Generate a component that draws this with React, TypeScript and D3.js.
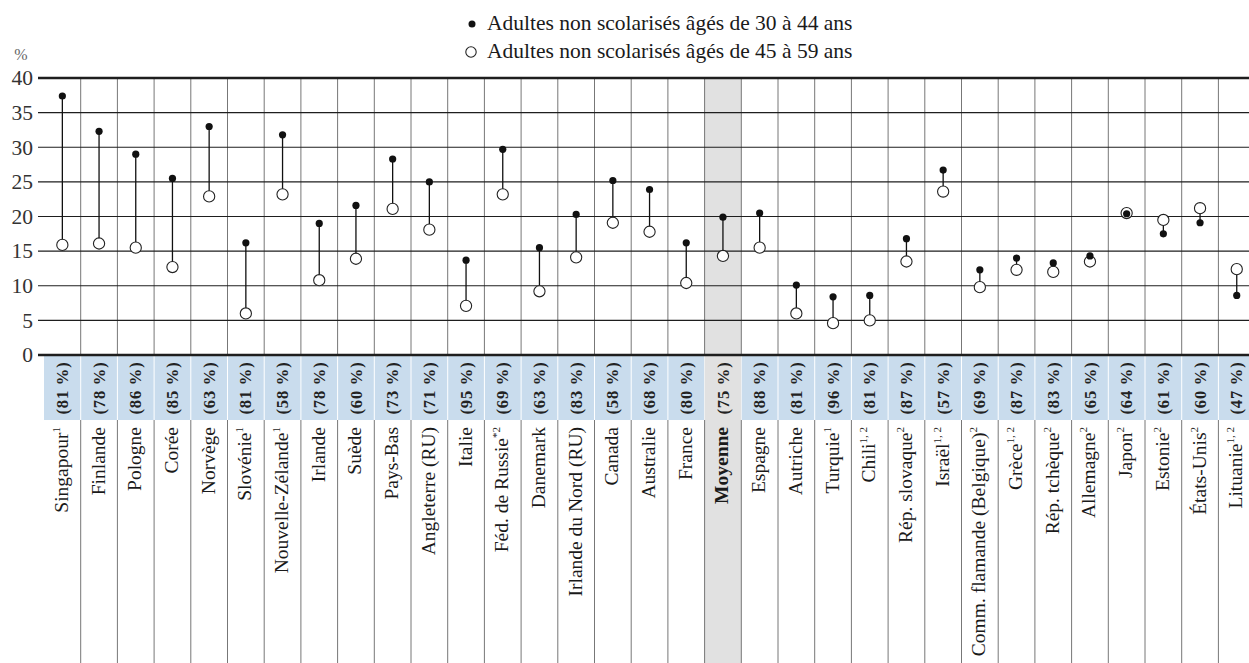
import React from "react";
import * as d3 from "d3";

const countries = [
  "Singapour", "Finlande", "Pologne", "Corée", "Norvège", "Slovénie", "Nouvelle-Zélande",
  "Irlande", "Suède", "Pays-Bas", "Angleterre (RU)", "Italie", "Féd. de Russie", "Danemark",
  "Irlande du Nord (RU)", "Canada", "Australie", "France", "Moyenne", "Espagne", "Autriche",
  "Turquie", "Chili", "Rép. slovaque", "Israël", "Comm. flamande (Belgique)", "Grèce",
  "Rép. tchèque", "Allemagne", "Japon", "Estonie", "États-Unis", "Lituanie",
];
const notes = [
  "1", "", "", "", "", "1", "1", "", "", "", "", "", "*2", "", "", "", "", "", "", "", "",
  "1", "1, 2", "2", "1, 2", "2", "1, 2", "2", "2", "2", "2", "2", "1, 2",
];
const shares = [
  81, 78, 86, 85, 63, 81, 58, 78, 60, 73, 71, 95, 69, 63, 83, 58, 68, 80, 75, 88, 81,
  96, 81, 87, 57, 69, 87, 83, 65, 64, 61, 60, 47,
];
const age30to44 = [
  37.4, 32.3, 29.0, 25.5, 33.0, 16.2, 31.8, 19.0, 21.6, 28.3, 25.0, 13.7, 29.7, 15.5,
  20.3, 25.2, 23.9, 16.2, 19.9, 20.5, 10.1, 8.4, 8.6, 16.8, 26.7, 12.3, 14.0, 13.3,
  14.3, 20.4, 17.5, 19.1, 8.6,
];
const age45to59 = [
  15.9, 16.1, 15.5, 12.7, 22.9, 6.0, 23.2, 10.8, 13.9, 21.1, 18.1, 7.1, 23.2, 9.2,
  14.1, 19.1, 17.8, 10.4, 14.3, 15.5, 6.0, 4.6, 5.0, 13.5, 23.6, 9.8, 12.3, 12.0,
  13.5, 20.5, 19.5, 21.2, 12.4,
];
const yTicks = [0, 5, 10, 15, 20, 25, 30, 35, 40];
const legendLabels = [
  "Adultes non scolarisés âgés de 30 à 44 ans",
  "Adultes non scolarisés âgés de 45 à 59 ans",
];
const averageName = "Moyenne";

const W = 1249;
const H = 663;
const FONT = "'Liberation Serif', 'Times New Roman', serif";

export default function App() {
  const colW = 36.7;
  const left = 44;
  const x = d3
    .scaleBand<string>()
    .domain(countries)
    .range([left, left + colW * countries.length])
    .padding(0);
  const y = d3.scaleLinear().domain([0, 40]).range([355, 78]);
  const bandTop = y(0) + 1;
  const bandBottom = 420;
  const labelTop = 427;
  const bw = x.bandwidth();

  return (
    <svg
      width={W}
      height={H}
      style={{ position: "absolute", left: 0, top: 0, background: "#fff" }}
      fontFamily={FONT}
    >
      {/* average column */}
      <rect
        x={x(averageName)!}
        y={y(40)}
        width={bw}
        height={H - y(40)}
        fill="#e1e1e1"
      />
      {/* band cells */}
      {countries.map((c, i) => (
        <rect
          key={"b" + i}
          x={x(c)! + (i === 0 ? 0 : 0.5)}
          y={bandTop}
          width={bw - (i === 0 ? 0.5 : 1)}
          height={bandBottom - bandTop}
          fill={c === averageName ? "#e1e1e1" : "#c9dced"}
        />
      ))}
      {/* vertical separators */}
      {countries.map((c, i) =>
        i === 0 ? null : (
          <g key={"v" + i}>
            <line x1={x(c)!} x2={x(c)!} y1={y(40)} y2={y(0)} stroke="#777" strokeWidth={1} />
            <line x1={x(c)!} x2={x(c)!} y1={bandBottom} y2={H} stroke="#777" strokeWidth={1} />
          </g>
        )
      )}
      {/* horizontal grid */}
      {yTicks.map((t) => (
        <line
          key={"h" + t}
          x1={38}
          x2={W}
          y1={y(t)}
          y2={y(t)}
          stroke="#1e1e1e"
          strokeWidth={t === 0 || t === 40 ? 2.5 : 1.2}
        />
      ))}
      {/* tick labels */}
      {yTicks.map((t) => (
        <text
          key={"t" + t}
          x={33}
          y={y(t)}
          dy="0.34em"
          textAnchor="end"
          fontSize={21.5}
          fill="#333"
        >
          {t}
        </text>
      ))}
      <text x={21} y={60} textAnchor="middle" fontSize={16} fill="#666">
        %
      </text>
      {/* stems */}
      {countries.map((c, i) => (
        <line
          key={"s" + i}
          x1={x(c)! + bw / 2}
          x2={x(c)! + bw / 2}
          y1={y(age30to44[i])}
          y2={y(age45to59[i])}
          stroke="#111"
          strokeWidth={1.3}
        />
      ))}
      {countries.map((c, i) => (
        <circle
          key={"o" + i}
          cx={x(c)! + bw / 2}
          cy={y(age45to59[i])}
          r={5.6}
          fill="#fff"
          stroke="#222"
          strokeWidth={1.1}
        />
      ))}
      {countries.map((c, i) => (
        <circle
          key={"f" + i}
          cx={x(c)! + bw / 2}
          cy={y(age30to44[i])}
          r={3.6}
          fill="#111"
        />
      ))}
      {/* band labels */}
      {countries.map((c, i) => (
        <text
          key={"p" + i}
          transform={`translate(${x(c)! + bw / 2},${(bandTop + bandBottom) / 2}) rotate(-90)`}
          textAnchor="middle"
          dy="0.34em"
          fontSize={16.5}
          letterSpacing={0.8}
          fontWeight="bold"
          fill="#222"
        >
          {`(${shares[i]} %)`}
        </text>
      ))}
      {/* country labels */}
      {countries.map((c, i) => (
        <text
          key={"c" + i}
          transform={`translate(${x(c)! + bw / 2 + 5.5},${labelTop}) rotate(-90)`}
          textAnchor="end"
          fontSize={19.5}
          fontWeight={c === averageName ? "bold" : "normal"}
          fill="#1a1a1a"
        >
          {c}
          {notes[i] ? (
            <tspan fontSize={11} dy={-8}>
              {notes[i]}
            </tspan>
          ) : null}
        </text>
      ))}
      {/* legend */}
      <circle cx={472} cy={24} r={3.5} fill="#111" />
      <text x={487} y={30} fontSize={21.5} fill="#1a1a1a">
        {legendLabels[0]}
      </text>
      <circle cx={471} cy={52} r={5.2} fill="#fff" stroke="#222" strokeWidth={1.1} />
      <text x={487} y={58} fontSize={21.5} fill="#1a1a1a">
        {legendLabels[1]}
      </text>
    </svg>
  );
}
